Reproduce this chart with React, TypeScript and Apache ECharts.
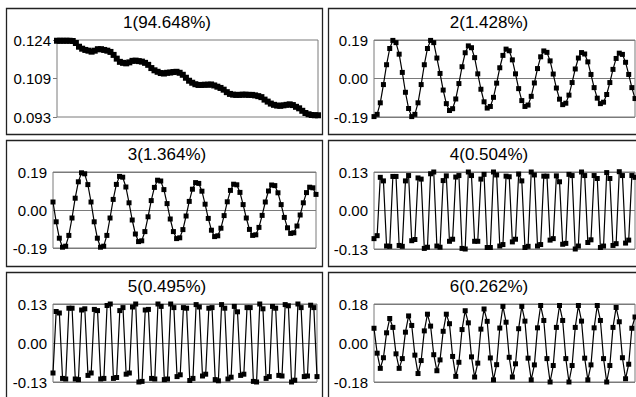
import React, { useEffect, useRef } from "react";
import * as echarts from "echarts";

// Months (sample index) shared by all six components
const months: number[] = Array.from({ length: 84 }, (_, i) => i + 1);

const titles = ["1(94.648%)", "2(1.428%)", "3(1.364%)", "4(0.504%)", "5(0.495%)", "6(0.262%)"];

const comp1 = [
  0.1237, 0.1237, 0.1237, 0.1237, 0.1237, 0.1236, 0.1228, 0.1213, 0.1205, 0.12, 0.1197, 0.1193,
  0.1197, 0.1203, 0.1203, 0.12, 0.1197, 0.1192, 0.118, 0.1165, 0.1152, 0.1148, 0.1146, 0.115,
  0.1156, 0.1157, 0.1155, 0.1153, 0.1148, 0.114, 0.1127, 0.1118, 0.1112, 0.1107, 0.1105, 0.1108,
  0.1109, 0.1111, 0.1112, 0.1108, 0.11, 0.1088, 0.1076, 0.1068, 0.1062, 0.1059, 0.1059, 0.106,
  0.106, 0.1061, 0.1057, 0.1052, 0.1047, 0.104, 0.103, 0.1023, 0.102, 0.1019, 0.1019, 0.102,
  0.102, 0.1019, 0.1019, 0.1017, 0.1014, 0.101, 0.1, 0.0992, 0.0984, 0.0979, 0.0976, 0.0975,
  0.0977, 0.0979, 0.0981, 0.0978, 0.0971, 0.0965, 0.0955, 0.0946, 0.0941, 0.0938, 0.0937, 0.0937,
];

const comp2 = [
  -0.188, -0.177, -0.12, -0.03, 0.068, 0.148, 0.188, 0.177, 0.12, 0.03, -0.068, -0.148,
  -0.188, -0.177, -0.12, -0.03, 0.068, 0.148, 0.188, 0.177, 0.101, 0.025, -0.057, -0.124,
  -0.158, -0.149, -0.101, -0.025, 0.058, 0.127, 0.161, 0.152, 0.103, 0.023, -0.053, -0.115,
  -0.146, -0.138, -0.093, -0.023, 0.053, 0.114, 0.145, 0.137, 0.092, 0.023, -0.05, -0.109,
  -0.138, -0.131, -0.088, -0.022, 0.049, 0.107, 0.136, 0.129, 0.087, 0.022, -0.047, -0.102,
  -0.129, -0.122, -0.082, -0.02, 0.047, 0.101, 0.128, 0.121, 0.082, 0.02, -0.045, -0.097,
  -0.124, -0.117, -0.079, -0.02, 0.045, 0.099, 0.125, 0.119, 0.08, 0.02, -0.045, -0.099,
];

const comp3 = [
  0.04, -0.059, -0.141, -0.186, -0.181, -0.127, -0.04, 0.059, 0.141, 0.186, 0.181, 0.127,
  0.04, -0.059, -0.141, -0.186, -0.181, -0.127, -0.04, 0.053, 0.128, 0.168, 0.164, 0.115,
  0.036, -0.05, -0.12, -0.158, -0.154, -0.108, -0.034, 0.047, 0.113, 0.149, 0.145, 0.102,
  0.032, -0.045, -0.108, -0.143, -0.139, -0.098, -0.03, 0.043, 0.104, 0.137, 0.133, 0.094,
  0.029, -0.042, -0.101, -0.133, -0.129, -0.091, -0.028, 0.041, 0.098, 0.129, 0.126, 0.088,
  0.027, -0.04, -0.097, -0.127, -0.124, -0.087, -0.027, 0.04, 0.095, 0.125, 0.122, 0.086,
  0.027, -0.037, -0.089, -0.117, -0.114, -0.08, -0.025, 0.036, 0.087, 0.114, 0.111, 0.078,
];

const comp4 = [
  -0.095, -0.085, 0.112, 0.1, -0.12, -0.121, 0.115, 0.115, -0.118, -0.121, 0.1, 0.118,
  -0.102, -0.098, 0.11, 0.106, -0.128, -0.124, 0.124, 0.13, -0.12, -0.124, 0.101, 0.117,
  -0.104, -0.097, 0.113, 0.118, -0.128, -0.13, 0.13, 0.118, -0.104, -0.104, 0.106, 0.122,
  -0.125, -0.125, 0.13, 0.12, -0.12, -0.115, 0.116, 0.114, -0.106, -0.097, 0.123, 0.1,
  -0.125, -0.121, 0.13, 0.12, -0.12, -0.115, 0.116, 0.116, -0.1, -0.095, 0.117, 0.097,
  -0.114, -0.111, 0.122, 0.118, -0.13, -0.12, 0.13, 0.118, -0.108, -0.099, 0.118, 0.108,
  -0.125, -0.12, 0.128, 0.108, -0.118, -0.112, 0.131, 0.118, -0.11, -0.1, 0.118, 0.112,
];

const comp5 = [
  -0.1, 0.105, 0.1, -0.118, -0.12, 0.116, 0.116, -0.12, -0.122, 0.11, 0.114, -0.108,
  -0.1, 0.112, 0.108, -0.12, -0.118, 0.125, 0.13, -0.118, -0.115, 0.108, 0.118, -0.104,
  -0.1, 0.12, 0.13, -0.13, -0.128, 0.11, 0.112, -0.118, -0.12, 0.13, 0.122, -0.122,
  -0.12, 0.13, 0.118, -0.112, -0.106, 0.118, 0.116, -0.125, -0.118, 0.128, 0.12, -0.11,
  -0.104, 0.116, 0.118, -0.122, -0.126, 0.128, 0.116, -0.12, -0.114, 0.122, 0.104, -0.108,
  -0.104, 0.118, 0.118, -0.128, -0.13, 0.13, 0.114, -0.118, -0.112, 0.122, 0.116, -0.108,
  -0.11, 0.128, 0.124, -0.13, -0.124, 0.13, 0.118, -0.112, -0.11, 0.126, 0.118, -0.112,
];

const comp6 = [
  0.068, -0.047, -0.117, -0.068, 0.047, 0.113, 0.072, -0.05, -0.117, -0.072, 0.05, 0.125,
  0.081, -0.056, -0.141, -0.081, 0.056, 0.133, 0.078, -0.054, -0.128, -0.078, 0.054, 0.133,
  0.089, -0.062, -0.154, -0.089, 0.062, 0.149, 0.093, -0.064, -0.157, -0.093, 0.064, 0.157,
  0.1, -0.069, -0.17, -0.1, 0.069, 0.169, 0.096, -0.066, -0.157, -0.096, 0.066, 0.169,
  0.101, -0.07, -0.17, -0.101, 0.07, 0.173, 0.104, -0.072, -0.18, -0.104, 0.072, 0.173,
  0.104, -0.072, -0.18, -0.104, 0.072, 0.173, 0.101, -0.07, -0.17, -0.101, 0.07, 0.173,
  0.104, -0.072, -0.18, -0.104, 0.072, 0.164, 0.098, -0.068, -0.165, -0.098, 0.068, 0.12,
];

const ticks1 = ["0.093", "0.109", "0.124"];
const ticks2 = ["-0.19", "0.00", "0.19"];
const ticks3 = ["-0.19", "0.00", "0.19"];
const ticks4 = ["-0.13", "0.00", "0.13"];
const ticks5 = ["-0.13", "0.00", "0.13"];
const ticks6 = ["-0.18", "0.00", "0.18"];

const ranges = [
  { min: 0.093, max: 0.124, interval: 0.0155 },
  { min: -0.19, max: 0.19, interval: 0.19 },
  { min: -0.19, max: 0.19, interval: 0.19 },
  { min: -0.13, max: 0.13, interval: 0.13 },
  { min: -0.13, max: 0.13, interval: 0.13 },
  { min: -0.18, max: 0.18, interval: 0.18 },
];

const FONT = "'Liberation Sans', Arial, sans-serif";

export default function App() {
  const ref = useRef<HTMLDivElement>(null);

  useEffect(() => {
    if (!ref.current) return;
    const chart = echarts.init(ref.current, null, { renderer: "svg", width: 636, height: 397 });

    const values = [comp1, comp2, comp3, comp4, comp5, comp6];
    const tickSets = [ticks1, ticks2, ticks3, ticks4, ticks5, ticks6];
    const boxes = [
      [6, 8], [328, 8],
      [6, 140], [328, 140],
      [6, 272], [328, 272],
    ];
    const grids = [
      { left: 57, top: 40, width: 261, height: 77 },
      { left: 374, top: 40, width: 261, height: 77 },
      { left: 53, top: 172, width: 263, height: 76 },
      { left: 374, top: 172, width: 261, height: 77 },
      { left: 53, top: 304, width: 264, height: 78 },
      { left: 374, top: 304, width: 261, height: 78 },
    ];

    const option: any = {
      animation: false,
      backgroundColor: "#ffffff",
      grid: grids.map((g) => ({
        ...g,
        show: true,
        borderColor: "#7a7a7a",
        borderWidth: 1,
        backgroundColor: "transparent",
      })),
      xAxis: grids.map((_, k) => ({
        type: "category",
        gridIndex: k,
        data: months,
        boundaryGap: false,
        show: false,
      })),
      yAxis: grids.map((_, k) => ({
        type: "value",
        gridIndex: k,
        min: ranges[k].min,
        max: ranges[k].max,
        interval: ranges[k].interval,
        axisLine: { show: false },
        axisTick: k === 0
          ? { show: true, length: 4, lineStyle: { color: "#7a7a7a" } }
          : { show: false },
        splitLine: { show: k !== 0, lineStyle: { color: "#7a7a7a", width: 1 } },
        axisLabel: {
          margin: 6,
          color: "#000",
          fontFamily: FONT,
          fontSize: 15,
          formatter: (v: number) => {
            const r = ranges[k];
            const idx = Math.round((v - r.min) / r.interval);
            return tickSets[k][idx] ?? "";
          },
        },
      })),
      series: values.map((d, k) => ({
        type: "line",
        xAxisIndex: k,
        yAxisIndex: k,
        data: d,
        symbol: "rect",
        symbolSize: k === 0 ? 6 : 5,
        showAllSymbol: true,
        clip: false,
        lineStyle: { color: "#000", width: k === 0 ? 2 : 1.2 },
        itemStyle: { color: "#000" },
      })),
      graphic: [
        ...boxes.map(([x, y]) => ({
          type: "rect",
          silent: true,
          shape: { x: x + 0.5, y: y + 0.5, width: 316, height: 126 },
          style: { fill: "none", stroke: "#222", lineWidth: 1.3 },
          z: 10,
        })),
        ...boxes.map(([x, y], k) => ({
          type: "text",
          silent: true,
          x: x + 161,
          y: y + 14,
          style: {
            text: titles[k],
            font: `17px ${FONT}`,
            fill: "#000",
            textAlign: "center",
            textVerticalAlign: "middle",
          },
          z: 10,
        })),
      ],
    };

    chart.setOption(option);
    return () => chart.dispose();
  }, []);

  return (
    <div
      ref={ref}
      style={{ position: "fixed", left: 0, top: 0, width: 636, height: 397, background: "#fff" }}
    />
  );
}
